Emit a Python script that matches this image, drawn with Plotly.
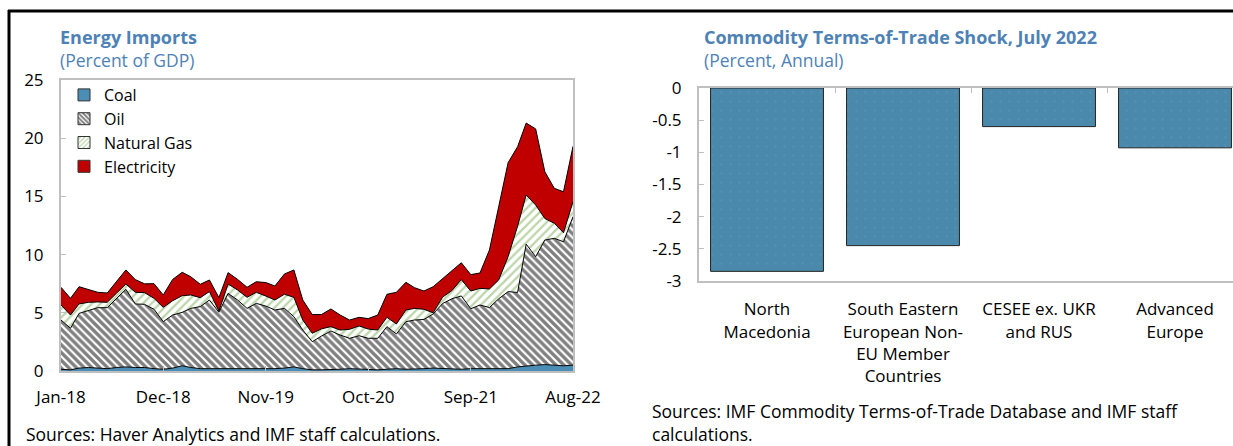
import plotly.graph_objects as go
import pandas as pd

# ---------------- Data ----------------
months = pd.date_range("2018-01-01", "2022-08-01", freq="MS")

coal = [0.15, 0.10, 0.25, 0.30, 0.25, 0.20, 0.30, 0.35, 0.30, 0.30,
        0.20, 0.15, 0.25, 0.45, 0.30, 0.20, 0.20, 0.20, 0.20, 0.20,
        0.20, 0.15, 0.15, 0.20, 0.25, 0.35, 0.20, 0.10, 0.10, 0.10,
        0.15, 0.20, 0.15, 0.10, 0.10, 0.15, 0.20, 0.15, 0.15, 0.20,
        0.25, 0.20, 0.15, 0.15, 0.20, 0.20, 0.20, 0.20, 0.20, 0.35,
        0.45, 0.50, 0.55, 0.50, 0.45, 0.50]
oil = [4.23, 3.57, 4.70, 4.88, 5.19, 5.24, 5.94, 6.67, 5.46, 5.43,
       5.10, 4.09, 4.56, 4.59, 5.08, 5.33, 5.90, 4.85, 6.47, 5.90,
       5.18, 5.66, 5.43, 5.04, 5.13, 4.32, 3.32, 2.42, 2.90, 3.34,
       2.94, 2.61, 2.88, 2.71, 2.71, 3.66, 2.98, 4.09, 4.23, 4.23,
       4.65, 5.60, 6.05, 6.30, 5.15, 5.47, 5.25, 6.00, 6.62, 6.40,
       10.45, 9.32, 10.70, 10.90, 10.65, 12.76]
gas = [1.29, 1.14, 0.81, 0.72, 0.49, 0.46, 0.43, 0.45, 1.00, 1.00,
       0.94, 1.23, 1.23, 1.43, 1.15, 0.77, 0.72, 0.10, 0.80, 0.86,
       0.95, 0.95, 0.86, 0.86, 1.21, 1.66, 0.86, 0.72, 0.62, 0.37,
       0.43, 0.77, 0.84, 0.79, 0.71, 0.80, 0.86, 1.00, 1.00, 0.87,
       0.10, 0.55, 0.70, 1.40, 1.52, 1.43, 1.60, 1.62, 3.00, 5.70,
       4.22, 4.44, 1.85, 1.29, 0.78, 1.29]
electricity = [1.52, 1.43, 1.48, 1.12, 0.83, 0.80, 1.03, 1.21, 1.09, 0.76,
               1.26, 1.06, 1.83, 2.01, 1.57, 1.15, 1.00, 1.15, 0.98, 0.91,
               0.86, 0.91, 1.16, 1.20, 1.74, 2.35, 1.72, 1.61, 1.23, 1.52,
               1.29, 0.80, 0.74, 0.90, 1.29, 1.98, 2.72, 2.38, 1.78, 1.57,
               2.24, 1.61, 1.75, 1.45, 1.41, 1.32, 3.35, 6.18, 8.08, 6.82,
               6.18, 6.54, 4.02, 3.00, 3.52, 4.75]
x_tick_labels = ["Jan-18", "Dec-18", "Nov-19", "Oct-20", "Sep-21", "Aug-22"]
y1_ticks = [0, 5, 10, 15, 20, 25]

regions = ["North<br>Macedonia",
           "South Eastern<br>European Non-<br>EU Member<br>Countries",
           "CESEE ex. UKR<br>and RUS",
           "Advanced<br>Europe"]
tot_shock = [-2.85, -2.45, -0.60, -0.93]
y2_ticks = [0, -0.5, -1, -1.5, -2, -2.5, -3]
y2_labels = ["0", "-0.5", "-1", "-1.5", "-2", "-2.5", "-3"]

# ---------------- Style ----------------
W, H = 1233, 446
FONT = "Open Sans"
FS = 17.5
TICK_FS = 17
TITLE_FS = 18
TITLE_BLUE = "#4e82b5"
AX_GRAY = "#bfbfbf"
COAL_C = "#4b8db4"
ELEC_C = "#c00000"
BAR_C = "#4a89ab"


def px(x):
    return x / W


def py(y):
    return 1 - y / H


fig = go.Figure()

oil_pat = dict(shape="\\", fgcolor="black", bgcolor="white", size=5.5, solidity=0.6)
gas_pat = dict(shape="/", fgcolor="#7aab55", bgcolor="white", size=6, solidity=0.38)

line_style = dict(color="black", width=1)
fig.add_trace(go.Scatter(
    x=months, y=coal, name="Coal", stackgroup="one", mode="lines",
    line=line_style, fillcolor=COAL_C, showlegend=False,
    xaxis="x", yaxis="y"))
fig.add_trace(go.Scatter(
    x=months, y=oil, name="Oil", stackgroup="one", mode="lines",
    line=line_style, fillcolor="white", fillpattern=oil_pat, showlegend=False,
    xaxis="x", yaxis="y"))
fig.add_trace(go.Scatter(
    x=months, y=gas, name="Natural Gas", stackgroup="one", mode="lines",
    line=line_style, fillcolor="white", fillpattern=gas_pat, showlegend=False,
    xaxis="x", yaxis="y"))
fig.add_trace(go.Scatter(
    x=months, y=electricity, name="Electricity", stackgroup="one", mode="lines",
    line=line_style, fillcolor=ELEC_C, showlegend=False,
    xaxis="x", yaxis="y"))

# legend keys (square swatches like the original)
legend_keys = [
    ("Coal", dict(color=COAL_C)),
    ("Oil", dict(color="white", pattern=dict(oil_pat, size=4))),
    ("Natural Gas", dict(color="white", pattern=dict(gas_pat, size=4))),
    ("Electricity", dict(color=ELEC_C)),
]
for name, mk in legend_keys:
    mk = dict(mk)
    mk["line"] = dict(color="#333333", width=1)
    fig.add_trace(go.Bar(x=[months[0]], y=[None], name=name, marker=mk,
                         showlegend=True, hoverinfo="skip",
                         xaxis="x", yaxis="y"))

fig.add_trace(go.Bar(
    x=regions, y=tot_shock, width=0.83, showlegend=False,
    marker=dict(color=BAR_C, line=dict(color="#222222", width=1),
                pattern=dict(shape=".", fgcolor="#5b97b8", bgcolor=BAR_C,
                             size=9, solidity=0.06)),
    xaxis="x2", yaxis="y2"))
# invisible trace to carry the top (zero-line) category axis
fig.add_trace(go.Bar(
    x=regions, y=[None] * len(regions), showlegend=False, hoverinfo="skip",
    xaxis="x3", yaxis="y2"))

tick_font = dict(family=FONT, size=TICK_FS, color="black")

fig.update_layout(
    width=W, height=H,
    margin=dict(l=0, r=0, t=0, b=0, autoexpand=False),
    paper_bgcolor="white", plot_bgcolor="white",
    font=dict(family=FONT, size=FS, color="black"),
    showlegend=True,
    legend=dict(x=px(64), y=py(78), xanchor="left", yanchor="top",
                traceorder="normal", bgcolor="rgba(0,0,0,0)",
                font=dict(family=FONT, size=16), itemwidth=30,
                tracegroupgap=0),
    xaxis=dict(domain=[px(61), px(573)], anchor="y", automargin=False,
               range=[months[0], months[-1]],
               tickvals=list(months[::11]), ticktext=x_tick_labels,
               showline=True, linecolor=AX_GRAY, linewidth=2, mirror=True,
               ticks="inside", ticklen=5, tickcolor=AX_GRAY,
               showgrid=False, zeroline=False, tickfont=tick_font,
               ticklabelstandoff=10),
    yaxis=dict(domain=[py(371), py(80)], anchor="x", automargin=False,
               range=[0, 25], tickvals=y1_ticks,
               showline=True, linecolor=AX_GRAY, linewidth=2, mirror=True,
               ticks="inside", ticklen=5, tickcolor=AX_GRAY,
               showgrid=False, zeroline=False, tickfont=tick_font,
               ticklabelstandoff=12),
    xaxis2=dict(domain=[px(699), 1.0], anchor="y2", automargin=False,
                range=[-0.5, -0.5 + (W - 699) / 136.0],
                categoryorder="array", categoryarray=regions,
                showline=True, linecolor=AX_GRAY, linewidth=2,
                ticks="", showgrid=False, zeroline=False,
                tickfont=tick_font, ticklabelstandoff=12),
    xaxis3=dict(domain=[px(699), 1.0], anchor="y2", overlaying="x2",
                side="top", automargin=False,
                range=[-0.5, -0.5 + (W - 699) / 136.0],
                categoryorder="array", categoryarray=regions,
                showline=True, linecolor=AX_GRAY, linewidth=2,
                ticks="inside", tickson="boundaries", ticklen=5,
                tickcolor=AX_GRAY, showticklabels=False,
                showgrid=False, zeroline=False),
    yaxis2=dict(domain=[py(281), py(88)], anchor="x2", automargin=False,
                range=[-3, 0], tickvals=y2_ticks, ticktext=y2_labels,
                showline=True, linecolor=AX_GRAY, linewidth=2,
                ticks="inside", ticklen=5, tickcolor=AX_GRAY,
                showgrid=False, zeroline=False, tickfont=tick_font,
                ticklabelstandoff=12),
    bargap=0.17,
)

annos = [
    dict(text="<b>Energy Imports</b>", x=px(59), y=py(37), color=TITLE_BLUE, size=TITLE_FS),
    dict(text="(Percent of GDP)", x=px(59), y=py(60), color=TITLE_BLUE, size=FS),
    dict(text="<b>Commodity Terms-of-Trade Shock, July 2022</b>", x=px(703),
         y=py(37), color=TITLE_BLUE, size=TITLE_FS),
    dict(text="(Percent, Annual)", x=px(703), y=py(60), color=TITLE_BLUE, size=FS),
    dict(text="Sources: Haver Analytics and IMF staff calculations.",
         x=px(25), y=py(434), color="black", size=FS),
    dict(text="Sources: IMF Commodity Terms-of-Trade Database and IMF staff",
         x=px(651), y=py(411), color="black", size=FS),
    dict(text="calculations.", x=px(651), y=py(434), color="black", size=FS),
]
for a in annos:
    fig.add_annotation(text=a["text"], x=a["x"], y=a["y"], xref="paper",
                       yref="paper", xanchor="left", yanchor="middle",
                       showarrow=False, borderpad=0,
                       font=dict(family=FONT, size=a["size"], color=a["color"]))

# outer black frame (top and left edges of the panel)
fig.add_shape(type="line", xref="paper", yref="paper",
              x0=px(8), x1=1.0, y0=py(11), y1=py(11),
              line=dict(color="black", width=3))
fig.add_shape(type="line", xref="paper", yref="paper",
              x0=px(9), x1=px(9), y0=py(10), y1=0,
              line=dict(color="black", width=3))

fig.write_html("out.html",
               config={"displayModeBar": False},
               post_script="document.body.style.margin='0px';"
                           "document.body.style.overflow='hidden';")
